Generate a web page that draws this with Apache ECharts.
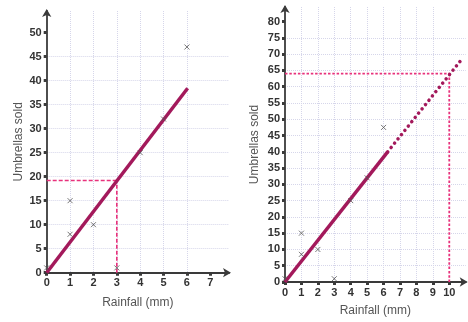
<!DOCTYPE html>
<html><head><meta charset="utf-8">
<script src="https://cdn.jsdelivr.net/npm/echarts@6/dist/echarts.min.js"></script>
<style>html,body{margin:0;padding:0;background:#fff}#c{width:468px;height:322px}</style>
</head><body><div id="c"></div>
<script>
// Left chart data
const leftPoints = [[0,1],[1,15],[1,8],[2,10],[3,1],[4,25],[5,32],[6,47]];
const leftFit = [[0,0],[6.03,38.4]];
const leftGuideH = [[0,19.2],[3,19.2]];
const leftGuideV = [[3,0],[3,19.2]];
const leftXTicks = [0,1,2,3,4,5,6,7];
const leftYTicks = [0,5,10,15,20,25,30,35,40,45,50];
// Right chart data
const rightPoints = [[0,1],[1,15],[1,8.5],[2,10],[3,1],[4,25],[5,32],[6,47.5]];
const rightFitSolid = [[0,0],[6.25,40]];
const rightFitDotted = [[6.25,40],[10.85,69]];
const rightGuideH = [[0,64],[10,64]];
const rightGuideV = [[10,0],[10,64]];
const rightXTicks = [0,1,2,3,4,5,6,7,8,9,10];
const rightYTicks = [0,5,10,15,20,25,30,35,40,45,50,55,60,65,70,75,80];

const AX = '#3a3a3a', LBL = '#333', NAME = '#555', GRID = '#d6d6ea';
const FIT = '#a3195b', GUIDE = '#e8327c';
const cross = 'path://M0,0L10,10M10,0L0,10';

function xAxis(gi, max, ticks, gap){
  return {type:'value', gridIndex:gi, min:0, max:max, interval:1,
    name:'Rainfall (mm)', nameLocation:'middle', nameGap:gap,
    nameTextStyle:{color:NAME, fontSize:12, fontFamily:'Liberation Sans'},
    axisLine:{show:true, onZero:false, symbol:['none','arrow'], symbolSize:[7,8], symbolOffset:[0,2], lineStyle:{color:AX, width:1.8}},
    axisTick:{show:true, length:3, customValues:ticks, lineStyle:{color:AX, width:3}},
    axisLabel:{customValues:ticks, margin:5, color:LBL, fontSize:11, fontWeight:'bold', fontFamily:'Liberation Sans'},
    splitLine:{show:true, showMinLine:false, showMaxLine:false, lineStyle:{color:GRID, type:'dotted', width:1}}
  };
}
function yAxis(gi, max, ticks, gap){
  return {type:'value', gridIndex:gi, min:0, max:max, interval:5,
    name:'Umbrellas sold', nameLocation:'middle', nameGap:gap,
    nameTextStyle:{color:NAME, fontSize:12, fontFamily:'Liberation Sans'},
    axisLine:{show:true, onZero:false, symbol:['none','arrow'], symbolSize:[7,8], symbolOffset:[0,2], lineStyle:{color:AX, width:1.8}},
    axisTick:{show:true, length:3, customValues:ticks, lineStyle:{color:AX, width:3}},
    axisLabel:{customValues:ticks, margin:5, color:LBL, fontSize:11, fontWeight:'bold', fontFamily:'Liberation Sans'},
    splitLine:{show:true, showMinLine:false, showMaxLine:false, lineStyle:{color:GRID, type:'dotted', width:1}}
  };
}
function scatter(xi, data){
  return {type:'scatter', xAxisIndex:xi, yAxisIndex:xi, data:data, symbol:cross, symbolSize:5, z:5,
    itemStyle:{color:'transparent', borderColor:'#555', borderWidth:1}};
}
function line(xi, data, color, width, type, cap){
  return {type:'line', xAxisIndex:xi, yAxisIndex:xi, data:data, showSymbol:false, symbol:'none', z:3,
    lineStyle:{color:color, width:width, type:type, cap:cap||'butt'}};
}

const chart = echarts.init(document.getElementById('c'), null, {renderer:'canvas'});
chart.setOption({
  animation:false,
  grid:[
    {left:46.7, top:11, right:239, bottom:49.3},
    {left:285, top:7, right:2.3, bottom:36.3}
  ],
  xAxis:[xAxis(0, 7.8, leftXTicks, 24), xAxis(1, 11, rightXTicks, 23)],
  yAxis:[yAxis(0, 54.5, leftYTicks, 22), yAxis(1, 84.5, rightYTicks, 24)],
  series:[
    line(0, leftGuideH, GUIDE, 1.6, [4,2]),
    line(0, leftGuideV, GUIDE, 1.6, [4,2]),
    line(0, leftFit, FIT, 3.5, 'solid'),
    scatter(0, leftPoints),
    line(1, rightGuideH, GUIDE, 1.8, [2.5,1.8]),
    line(1, rightGuideV, GUIDE, 1.8, [2.5,1.8]),
    line(1, rightFitSolid, FIT, 3.5, 'solid'),
    line(1, rightFitDotted, FIT, 3.5, [0.1,5.4], 'round'),
    scatter(1, rightPoints)
  ]
});
</script></body></html>
